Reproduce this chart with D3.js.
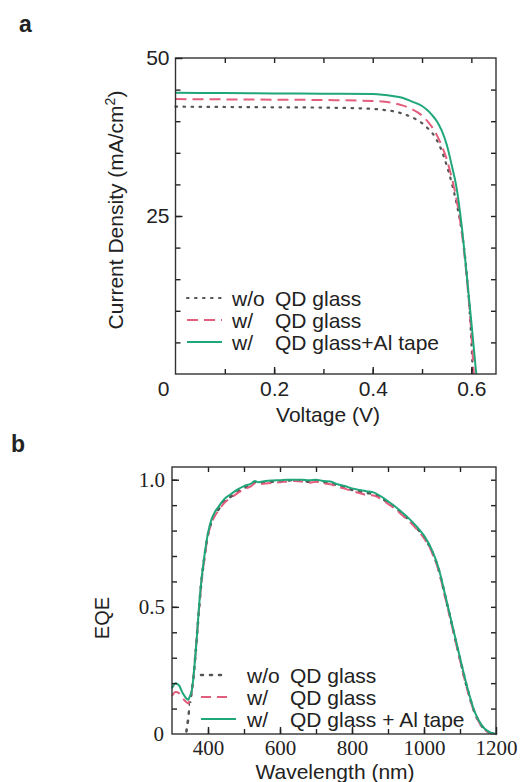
<!DOCTYPE html>
<html>
<head>
<meta charset="utf-8">
<script src="https://cdn.jsdelivr.net/npm/d3@7"></script>
<style>
  body { margin: 0; background: #fff; }
  svg { display: block; }
  text { font-family: "Liberation Sans", Arial, sans-serif; fill: #222; }
  .serif text { font-family: "Liberation Serif", "Times New Roman", serif; }
</style>
</head>
<body>
<svg id="chart" width="522" height="782"></svg>
<script>
// ---- panel a : J-V curves ----
const seriesNames = ["w/o", "w/", "w/"];
const legendA = ["QD glass", "QD glass", "QD glass+Al tape"];
const legendB = ["QD glass", "QD glass", "QD glass + Al tape"];

const vNoGlass = [0,0.1,0.2,0.3,0.4,0.42,0.44,0.46,0.48,0.50,0.51,0.52,0.53,0.54,0.55,0.56,0.57,0.58,0.59,0.60,0.603];
const jNoGlass = [42.3,42.25,42.2,42.15,41.95,41.8,41.6,41.2,40.6,39.7,39.0,38.2,37.0,35.3,33.0,30.3,27.0,22.9,16.4,5.2,0];
const vGlass = [0,0.1,0.2,0.3,0.4,0.42,0.44,0.46,0.48,0.50,0.51,0.52,0.53,0.54,0.55,0.56,0.57,0.58,0.59,0.60,0.605];
const jGlass = [43.5,43.45,43.4,43.35,43.2,43.1,42.9,42.5,41.9,40.9,40.1,39.1,37.8,36.1,34.0,31.1,27.6,22.7,15.8,6.4,0];
const vTape = [0,0.1,0.2,0.3,0.4,0.42,0.44,0.46,0.48,0.50,0.51,0.52,0.53,0.54,0.55,0.56,0.57,0.58,0.59,0.60,0.61];
const jTape = [44.5,44.45,44.4,44.35,44.3,44.2,44.0,43.7,43.1,42.4,41.8,41.0,40.0,38.5,36.3,33.1,29.5,23.7,16.2,8.2,0];

const xTicksA = [0.2, 0.4, 0.6];
const yTicksA = [25, 50];

// ---- panel b : EQE ----
const wavelength = [300,310,320,330,340,345,350,355,360,365,370,375,380,390,400,410,420,430,440,450,460,470,480,500,520,530,540,560,580,600,620,640,660,680,700,720,740,760,780,800,820,840,860,880,900,920,940,960,980,1000,1020,1040,1060,1080,1100,1120,1140,1160,1180,1200];
const eqeNoGlass = [null,null,null,null,0.01,0.06,0.12,0.17,0.23,0.31,0.40,0.49,0.575,0.695,0.785,0.835,0.865,0.885,0.905,0.92,0.93,0.94,0.95,0.967,0.98,0.99,0.986,0.99,0.992,0.994,0.997,0.998,0.997,0.992,0.996,0.99,0.988,0.977,0.97,0.96,0.954,0.948,0.944,0.93,0.91,0.89,0.865,0.84,0.81,0.775,0.725,0.65,0.535,0.415,0.295,0.18,0.087,0.032,0.007,0];
const eqeGlass = [0.15,0.165,0.16,0.14,0.125,0.12,0.14,0.17,0.23,0.31,0.40,0.49,0.57,0.69,0.78,0.83,0.86,0.88,0.90,0.915,0.925,0.935,0.945,0.962,0.975,0.985,0.982,0.985,0.988,0.99,0.993,0.995,0.993,0.988,0.992,0.985,0.982,0.972,0.965,0.955,0.948,0.94,0.938,0.925,0.905,0.885,0.86,0.835,0.805,0.77,0.72,0.645,0.53,0.41,0.29,0.175,0.085,0.03,0.006,0];
const eqeTape = [0.18,0.20,0.19,0.16,0.14,0.135,0.15,0.17,0.23,0.31,0.40,0.50,0.58,0.70,0.79,0.845,0.875,0.895,0.915,0.93,0.94,0.95,0.96,0.975,0.985,0.995,0.99,0.995,0.997,0.998,1.0,1.0,1.0,0.998,1.0,0.995,0.993,0.982,0.975,0.966,0.96,0.955,0.95,0.935,0.915,0.895,0.87,0.845,0.815,0.78,0.73,0.655,0.54,0.42,0.30,0.185,0.09,0.035,0.008,0];

const xTicksB = [400, 600, 800, 1000, 1200];
const yTicksB = [0.5, 1.0];

const colors = ["#555555", "#e35d7c", "#1fa67a"];
const dashA = ["1.6,6.4", "11,6", null];
const dashB = ["2,7", "10,6", null];

const chart = d3.select("#chart");

const zip = (xs, ys) => xs.map((x, i) => ({x: x, y: ys[i]}));

const drawFrame = (g, x, y, xMinor, yMinor) => {
    let [x0, x1] = x.range();
    let [y0, y1] = y.range();
    let fr = g.append("g").attr("class", "frame");
    fr.append("g").attr("transform", "translate(0," + y0 + ")")
        .call(d3.axisBottom(x).tickValues(xMinor).tickSize(-5).tickFormat(""));
    fr.append("g").attr("transform", "translate(0," + y1 + ")")
        .call(d3.axisTop(x).tickValues(xMinor).tickSize(-5).tickFormat(""));
    fr.append("g").attr("transform", "translate(" + x0 + ",0)")
        .call(d3.axisLeft(y).tickValues(yMinor).tickSize(-5).tickFormat(""));
    fr.append("g").attr("transform", "translate(" + x1 + ",0)")
        .call(d3.axisRight(y).tickValues(yMinor).tickSize(-5).tickFormat(""));
    fr.selectAll(".domain").remove();
    fr.selectAll(".tick line").attr("stroke", "#222").attr("stroke-width", 1.4);
    fr.append("rect")
        .attr("x", x0).attr("y", y1)
        .attr("width", x1 - x0).attr("height", y0 - y1)
        .attr("fill", "none").attr("stroke", "#333").attr("stroke-width", 1.4);
}

// ===== panel a =====
let ga = chart.append("g");
let xa = d3.scaleLinear().domain([0, 0.65]).range([175.5, 496]);
let ya = d3.scaleLinear().domain([0, 50]).range([374, 58]);

let jvData = [zip(vNoGlass, jNoGlass), zip(vGlass, jGlass), zip(vTape, jTape)];
let lineA = d3.line().x(d => xa(d.x)).y(d => ya(d.y)).curve(d3.curveMonotoneX);

ga.append("g").selectAll("path")
    .data(jvData)
    .enter().append("path")
        .attr("d", d => lineA(d))
        .attr("fill", "none")
        .attr("stroke", (d, i) => colors[i])
        .attr("stroke-width", (d, i) => i == 0 ? 2.2 : 2)
        .attr("stroke-linecap", (d, i) => i == 0 ? "round" : "butt")
        .attr("stroke-dasharray", (d, i) => dashA[i]);

drawFrame(ga, xa, ya, d3.range(1, 7).map(i => i / 10), d3.range(5, 50, 5));

let xAxisA = ga.append("g").attr("transform", "translate(0," + ya(0) + ")")
    .call(d3.axisBottom(xa).tickValues(xTicksA).tickSize(-7).tickPadding(7).tickFormat(d3.format(".1f")));
let yAxisA = ga.append("g").attr("transform", "translate(" + xa(0) + ",0)")
    .call(d3.axisLeft(ya).tickValues(yTicksA).tickSize(-7).tickPadding(6));
[xAxisA, yAxisA].forEach(a => {
    a.select(".domain").remove();
    a.selectAll(".tick line").attr("stroke", "#222").attr("stroke-width", 1.4);
    a.selectAll("text").style("font-size", "21px").attr("fill", "#333");
});
ga.append("text")
    .attr("x", xa(0) - 12).attr("y", ya(0) + 22)
    .attr("text-anchor", "middle")
    .style("font-size", "21px").attr("fill", "#333")
    .text("0");

ga.append("text")
    .attr("x", 328).attr("y", 422)
    .attr("text-anchor", "middle")
    .style("font-size", "21px")
    .text("Voltage (V)");
let yLabA = ga.append("text")
    .attr("transform", "translate(123,210) rotate(-90)")
    .attr("text-anchor", "middle")
    .style("font-size", "21px");
yLabA.append("tspan").text("Current Density (mA/cm");
yLabA.append("tspan").attr("dy", -8).style("font-size", "14px").text("2");
yLabA.append("tspan").attr("dy", 8).text(")");

let legA = ga.selectAll(".legendA")
    .data(legendA)
    .enter().append("g")
    .attr("class", "legendA")
    .attr("transform", (d, i) => "translate(0," + (298 + i * 22) + ")");
legA.append("line")
    .attr("x1", 187).attr("x2", 222)
    .attr("stroke", (d, i) => colors[i])
    .attr("stroke-width", 2)
    .attr("stroke-linecap", (d, i) => i == 0 ? "round" : "butt")
    .attr("stroke-dasharray", (d, i) => dashA[i]);
legA.append("text").attr("x", 232).attr("dy", "0.36em")
    .style("font-size", "21px").text((d, i) => seriesNames[i]);
legA.append("text").attr("x", 275).attr("dy", "0.36em")
    .style("font-size", "21px").text(d => d);

chart.append("text")
    .attr("x", 19).attr("y", 32)
    .style("font-size", "23px").style("font-weight", "bold")
    .text("a");

// ===== panel b =====
let gb = chart.append("g");
let xb = d3.scaleLinear().domain([300, 1200]).range([172, 496]);
let yb = d3.scaleLinear().domain([0, 1.05]).range([734, 467]);

let eqeData = [zip(wavelength, eqeNoGlass), zip(wavelength, eqeGlass), zip(wavelength, eqeTape)];
let lineB = d3.line().defined(d => d.y != null).x(d => xb(d.x)).y(d => yb(d.y)).curve(d3.curveMonotoneX);

gb.append("g").selectAll("path")
    .data(eqeData)
    .enter().append("path")
        .attr("d", d => lineB(d))
        .attr("fill", "none")
        .attr("stroke", (d, i) => colors[i])
        .attr("stroke-width", (d, i) => i == 0 ? 2.6 : 2)
        .attr("stroke-linecap", (d, i) => i == 0 ? "round" : "butt")
        .attr("stroke-dasharray", (d, i) => dashB[i]);

// legend background covers the lower-left corner of the plot
gb.append("rect")
    .attr("x", 190).attr("y", 703)
    .attr("width", 272).attr("height", 29)
    .attr("fill", "#fff");

drawFrame(gb, xb, yb, d3.range(400, 1200, 100), d3.range(1, 11).map(i => i / 10));

let xAxisB = gb.append("g").attr("class", "serif").attr("transform", "translate(0," + yb(0) + ")")
    .call(d3.axisBottom(xb).tickValues(xTicksB).tickSize(-7).tickPadding(6).tickFormat(d3.format("d")));
let yAxisB = gb.append("g").attr("class", "serif").attr("transform", "translate(" + xb(300) + ",0)")
    .call(d3.axisLeft(yb).tickValues(yTicksB).tickSize(-7).tickPadding(7).tickFormat(d3.format(".1f")));
[xAxisB, yAxisB].forEach(a => {
    a.select(".domain").remove();
    a.selectAll(".tick line").attr("stroke", "#222").attr("stroke-width", 1.4);
    a.selectAll("text").style("font-size", "21px").attr("fill", "#333");
});
gb.append("g").attr("class", "serif")
    .append("text")
    .attr("x", 164).attr("y", yb(0)).attr("dy", "0.32em")
    .attr("text-anchor", "end")
    .style("font-size", "21px").attr("fill", "#333")
    .text("0");

gb.append("text")
    .attr("x", 335).attr("y", 779)
    .attr("text-anchor", "middle")
    .style("font-size", "21px")
    .text("Wavelength (nm)");
gb.append("text")
    .attr("transform", "translate(109,618) rotate(-90)")
    .attr("text-anchor", "middle")
    .style("font-size", "20px")
    .text("EQE");

let legB = gb.selectAll(".legendB")
    .data(legendB)
    .enter().append("g")
    .attr("class", "legendB")
    .attr("transform", (d, i) => "translate(0," + (675 + i * 22) + ")");
legB.append("line")
    .attr("x1", 201).attr("x2", (d, i) => [228, 233, 236][i])
    .attr("stroke", (d, i) => colors[i])
    .attr("stroke-width", (d, i) => i == 0 ? 2.6 : 2)
    .attr("stroke-linecap", (d, i) => i == 0 ? "round" : "butt")
    .attr("stroke-dasharray", (d, i) => dashB[i]);
legB.append("text").attr("x", 247).attr("dy", "0.36em")
    .style("font-size", "21px").text((d, i) => seriesNames[i]);
legB.append("text").attr("x", 290).attr("dy", "0.36em")
    .style("font-size", "21px").text(d => d);

chart.append("text")
    .attr("x", 11).attr("y", 452)
    .style("font-size", "23px").style("font-weight", "bold")
    .text("b");
</script>
</body>
</html>
